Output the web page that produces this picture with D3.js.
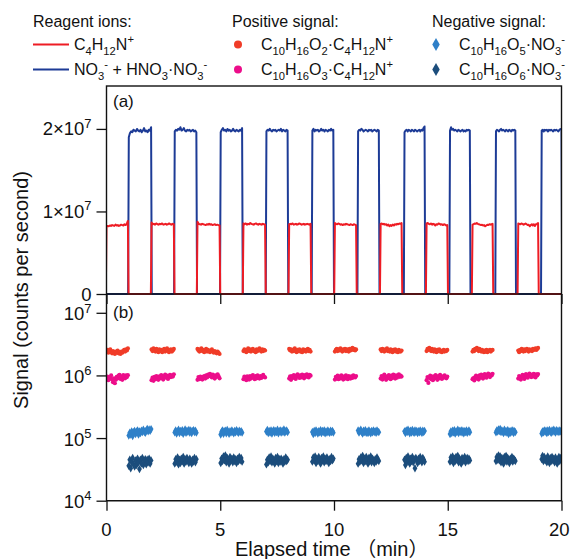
<!DOCTYPE html>
<html>
<head>
<meta charset="utf-8">
<script src="https://cdn.jsdelivr.net/npm/d3@7"></script>
<style>
  body { margin: 0; background: #fff; }
  svg { display: block; }
  text { font-family: "Liberation Sans", Arial, "Noto Sans CJK SC", sans-serif; fill: #111; }
</style>
</head>
<body>
<svg id="chart" width="570" height="559"></svg>
<script>
// Signal values are in thousands of counts per second.
const unit = 1e3;

// Switching windows (minutes): positive-ion mode and negative-ion mode.
const posStart = [0, 1.98, 4.0, 6.02, 8.03, 10.04, 12.05, 14.07, 16.09, 18.1];
const posEnd   = [0.94, 2.96, 4.97, 6.97, 8.97, 10.97, 12.97, 14.98, 16.97, 18.97];
const negStart = [0.98, 3.0, 5.02, 7.03, 9.05, 11.06, 13.1, 15.1, 17.12, 19.13];
const negEnd   = [1.96, 3.95, 5.96, 7.96, 9.97, 11.97, 13.98, 15.97, 17.97, 20.0];

// Reagent ion C4H12N+ (positive mode), one row per window
const reagentPos = [
  [8150,8250,8200,8300,8250,8350,8300,8250,8400,8300,8350,8250,8300,8400,8350,8300,8450,8350,8500,8850],
  [8650,8450,8500,8400,8550,8450,8400,8500,8450,8550,8400,8450,8500,8400,8450,8550,8450,8400,8500,8450],
  [8750,8500,8450,8400,8500,8450,8400,8350,8450,8400,8500,8400,8450,8350,8400,8450,8350,8400,8350,8300],
  [8550,8450,8550,8400,8500,8450,8600,8500,8450,8400,8500,8550,8450,8400,8500,8450,8400,8500,8450,8400],
  [8450,8500,8450,8550,8400,8450,8500,8400,8450,8550,8500,8400,8450,8500,8400,8450,8500,8450,8400,8500],
  [8600,8500,8450,8550,8500,8400,8450,8350,8450,8400,8500,8450,8400,8350,8450,8400,8350,8450,8400,8350],
  [8500,8550,8450,8500,8400,8450,8300,8400,8200,8350,8250,8400,8300,8450,8400,8500,8450,8550,8500,8600],
  [8550,8600,8500,8450,8550,8400,8500,8450,8300,8450,8400,8550,8500,8400,8450,8350,8450,8400,8300,8350],
  [8400,8450,8550,8500,8600,8500,8450,8400,8350,8400,8300,8350,8200,8300,8400,8350,8450,8400,8450,8500],
  [8550,8500,8450,8550,8500,8400,8450,8550,8450,8350,8400,8200,8350,8450,8300,8450,8250,8450,8500,8600]
];

// Reagent ions NO3- + HNO3·NO3- (negative mode)
const reagentNeg = [
  [19000,19500,19700,19600,19900,19800,19700,20000,19800,19700,19900,19600,19800,20100,19700,19800,19600,19900,19800,20200],
  [19700,19900,19800,20000,19900,20200,19800,19900,20100,19800,19700,19900,19800,19900,19700,19800,19900,19700,19800,19600],
  [19600,19900,20100,19800,19900,19700,20000,19800,19900,19700,19800,20000,19800,19700,19900,19800,19700,19900,19800,20100],
  [19700,19900,19800,20000,19800,19700,19900,19800,19900,19700,19800,19900,19800,20000,19700,19900,19800,19700,19900,19800],
  [19800,20000,19700,19900,19800,19900,19700,19800,20000,19800,19900,19700,19900,19800,19700,19900,19800,20000,19800,19900],
  [19700,19900,19800,20000,19900,19700,19800,19900,19800,19700,19900,19800,19900,19700,19800,19900,19800,19700,19900,19800],
  [19600,19800,19900,19700,19900,19800,19700,19900,19800,19700,19900,19800,19700,19800,19900,19700,19900,19800,20100,20300],
  [19800,20200,19900,20000,19800,19900,19800,19700,19900,19800,19700,19800,19900,19700,19800,19700,19900,19800,19900,19800],
  [19700,19900,19800,19700,19900,20000,19800,19900,19800,19700,19900,19800,19700,19900,19800,19700,19900,19800,19900,19800],
  [19800,19900,19700,19900,19800,19900,19700,19900,19800,19900,19800,19700,19900,19800,19900,19800,19700,19900,20000,19900]
];

// C10H16O2·C4H12N+
const c10o2Pos = [
  [2400,2550,2300,2450,2600,2350,2250,2450,2350,2200,2400,2300,2500,2250,2350,2200,2400,2300,2450,2550,2400,2600,2500,2700],
  [2600,2450,2700,2500,2400,2650,2550,2350,2600,2450,2550,2350,2500,2650,2400,2550,2700,2450,2350,2550,2600,2400,2500,2650],
  [2650,2500,2400,2600,2700,2450,2550,2350,2500,2650,2400,2550,2450,2350,2500,2600,2400,2300,2450,2350,2250,2400,2300,2200],
  [2450,2600,2500,2350,2550,2700,2450,2600,2400,2550,2650,2450,2500,2350,2600,2450,2550,2700,2500,2400,2600,2450,2550,2500],
  [2650,2500,2600,2400,2550,2450,2700,2500,2350,2550,2450,2600,2400,2500,2350,2600,2450,2550,2400,2500,2650,2450,2550,2400],
  [2400,2550,2650,2450,2600,2500,2700,2550,2400,2600,2500,2650,2450,2600,2550,2400,2650,2500,2600,2750,2550,2650,2500,2600],
  [2600,2450,2650,2500,2400,2600,2500,2700,2450,2550,2400,2600,2500,2350,2550,2450,2600,2400,2500,2350,2550,2450,2400,2500],
  [2450,2650,2550,2750,2600,2450,2650,2500,2400,2600,2500,2350,2550,2450,2600,2400,2500,2350,2450,2550,2400,2500,2450,2550],
  [2400,2550,2450,2650,2550,2750,2600,2450,2650,2500,2400,2550,2450,2350,2500,2400,2550,2350,2500,2450,2550,2400,2500,2550],
  [2500,2350,2550,2450,2650,2500,2400,2600,2450,2550,2650,2500,2400,2600,2500,2550,2450,2650,2550,2600,2700,2550,2650,2750]
];

// C10H16O3·C4H12N+
const c10o3Pos = [
  [880,960,840,930,900,1000,860,780,900,750,850,950,900,990,1020,880,960,850,1010,950,900,1000,940,1010],
  [840,920,820,950,870,980,900,850,970,900,1010,930,860,960,1030,920,990,880,960,1020,940,1000,960,1040],
  [850,940,870,960,900,860,950,980,890,1000,930,1030,970,1060,980,930,1030,960,890,1000,950,1040,970,900],
  [870,960,900,840,970,910,860,980,890,950,1010,920,870,980,900,1000,940,890,980,910,960,1020,950,930],
  [890,970,850,980,910,1010,930,880,990,1040,950,910,1000,930,1030,960,900,1010,950,1040,980,930,1020,990],
  [860,950,890,990,870,960,900,1000,920,860,970,890,1000,930,870,980,940,890,970,910,1000,960,930,980],
  [890,980,860,950,1030,920,850,970,900,1010,940,870,990,910,1030,950,890,1000,920,980,1040,950,990,960],
  [840,940,760,910,990,870,960,840,970,900,1010,920,850,980,900,1020,940,880,970,920,1000,950,900,960],
  [870,910,830,940,990,890,960,860,1000,920,1030,950,890,1010,1050,960,920,1020,1070,990,940,1030,1000,1060],
  [890,980,910,860,970,1020,940,880,1000,1050,960,920,1020,1070,980,940,1030,960,1060,990,930,1040,1000,1050]
];

// C10H16O5·NO3-
const c10o5Neg = [
  [110,122,114,128,108,124,130,116,126,133,114,128,120,131,124,136,126,121,133,140,128,137,131,139],
  [123,132,118,128,136,120,130,124,134,117,127,137,121,131,126,135,122,132,120,129,134,125,131,122],
  [114,126,133,117,128,131,119,135,125,117,129,122,133,126,119,130,123,134,127,121,131,124,129,122],
  [127,135,120,130,122,133,118,128,134,121,130,124,136,119,128,133,122,131,125,137,122,129,132,124],
  [125,116,130,120,133,126,118,129,123,134,120,130,124,133,119,128,122,132,126,121,131,124,130,122],
  [132,122,129,136,125,118,131,124,134,121,128,120,133,126,119,130,123,132,125,129,121,133,127,124],
  [128,120,133,124,136,129,119,131,122,135,126,121,133,124,130,120,129,123,133,126,121,131,125,130],
  [116,128,120,131,123,134,118,128,125,136,120,130,126,133,122,131,119,129,124,132,121,128,133,124],
  [123,132,127,137,129,140,124,133,127,120,136,125,130,122,134,116,128,121,131,125,133,120,129,124],
  [118,128,123,133,126,131,120,132,124,135,127,121,133,126,136,128,122,134,127,131,124,133,128,130]
];

// C10H16O6·NO3-
const c10o6Neg = [
  [36,45,33,41,48,38,35,44,37,47,41,32,45,39,48,37,43,46,38,45,41,47,39,44],
  [39,46,42,49,38,45,40,47,43,50,39,46,42,48,44,40,47,43,39,45,42,48,41,46],
  [40,47,43,51,44,53,41,48,45,39,50,44,47,41,49,43,46,40,47,43,50,44,48,42],
  [38,45,41,49,43,51,41,47,44,39,48,43,50,40,46,42,47,44,39,46,42,49,43,45],
  [42,49,44,51,40,47,43,50,45,39,48,44,51,41,47,43,49,45,40,46,43,50,44,47],
  [39,46,42,49,44,52,40,47,43,50,45,39,48,43,51,41,47,44,40,46,42,49,45,43],
  [45,37,48,42,51,44,39,47,43,50,41,46,33,48,44,40,47,43,50,44,41,48,45,42],
  [42,49,44,51,40,47,43,50,45,52,41,47,44,39,48,43,46,50,41,45,48,43,47,44],
  [43,50,45,53,44,51,41,48,45,39,50,44,52,42,48,45,40,47,44,50,42,47,45,43],
  [46,52,43,50,44,47,41,51,45,40,48,43,50,44,47,41,49,44,39,46,50,43,48,45]
];

// Axis ticks
const timeMajor = [0, 5, 10, 15, 20];
const timeMinor = d3.range(0, 21);
const linMajor = [0, 1e7, 2e7];
const linLabels = { 0: "0", 1e7: "1×10^{7}", 2e7: "2×10^{7}" };
const linMinor = [5e6, 1.5e7];
const logMajor = [1e4, 1e5, 1e6, 1e7];
const logLabels = { 1e4: "10^{4}", 1e5: "10^{5}", 1e6: "10^{6}", 1e7: "10^{7}" };

const colors = {
  reagentPos: "#ee1c24",
  reagentNeg: "#1d3b96",
  c10o2Pos: "#f03c28",
  c10o3Pos: "#ec0d8a",
  c10o5Neg: "#2f80c8",
  c10o6Neg: "#1c4d7c"
};

// ---------- layout ----------
const W = 570;
const L = 106.5, R = 561.5;
const aTop = 86, aBot = 294, bBot = 500.7;
const tickFont = 18.5, legendFont = 16, titleFont = 20;

const svg = d3.select("#chart");

const x = d3.scaleLinear().domain([0, 20]).range([L, R]);
const ya = d3.scaleLinear().domain([0, 2.52e7]).range([aBot, aTop]);
const yb = d3.scaleLog().domain([1e4, Math.pow(10, 7.3)]).range([bBot, aBot]);

// text with _{sub} and ^{sup} markup
function rich(sel, str, fs) {
  const parts = str.split(/(_\{[^}]*\}|\^\{[^}]*\})/).filter(s => s.length);
  let shift = 0;
  parts.forEach(p => {
    let target = 0, size = fs, t = p;
    if (p.startsWith("_{")) { target = fs * 0.3; size = fs * 0.7; t = p.slice(2, -1); }
    else if (p.startsWith("^{")) { target = -fs * 0.42; size = fs * 0.7; t = p.slice(2, -1); }
    sel.append("tspan").attr("dy", target - shift).attr("font-size", size).text(t);
    shift = target;
  });
  return sel;
}

// clip regions for the two panels
const defs = svg.append("defs");
defs.append("clipPath").attr("id", "clipA").append("rect")
  .attr("x", L).attr("y", aTop).attr("width", R - L).attr("height", aBot - aTop + 1.5);
defs.append("clipPath").attr("id", "clipB").append("rect")
  .attr("x", L).attr("y", aBot + 1).attr("width", R - L).attr("height", bBot - aBot - 1);

// ---------- panel (a): reagent ion traces ----------
const rise = 0.03;
function trace(starts, ends, segs) {
  const pts = [[x.domain()[0], 0]];
  starts.forEach((s, i) => {
    const vals = segs[i];
    const dt = (ends[i] - s) / (vals.length - 1);
    pts.push([s - rise, 0]);
    vals.forEach((v, j) => pts.push([s + j * dt, v * unit]));
    pts.push([ends[i] + rise, 0]);
  });
  pts.push([x.domain()[1], 0]);
  return pts;
}
const line = d3.line().x(d => x(d[0])).y(d => ya(d[1]));

const gA = svg.append("g").attr("clip-path", "url(#clipA)");
gA.append("path").datum(trace(negStart, negEnd, reagentNeg))
  .attr("d", line).attr("fill", "none").attr("stroke", colors.reagentNeg)
  .attr("stroke-width", 2).attr("stroke-linejoin", "round");
gA.append("path").datum(trace(posStart, posEnd, reagentPos))
  .attr("d", line).attr("fill", "none").attr("stroke", colors.reagentPos)
  .attr("stroke-width", 2).attr("stroke-linejoin", "round");

// ---------- panel (b): product ion signals ----------
function points(starts, ends, segs) {
  const out = [];
  starts.forEach((s, i) => {
    const vals = segs[i];
    const dt = (ends[i] - s) / (vals.length - 1);
    vals.forEach((v, j) => out.push([s + j * dt, v * unit]));
  });
  return out;
}
const gB = svg.append("g").attr("clip-path", "url(#clipB)");
const diamond = d3.symbol().type(d3.symbolDiamond).size(20);

[["c10o2Pos", c10o2Pos], ["c10o3Pos", c10o3Pos]].forEach(([key, segs]) => {
  gB.append("g").selectAll("circle").data(points(posStart, posEnd, segs)).join("circle")
    .attr("cx", d => x(d[0])).attr("cy", d => yb(d[1])).attr("r", 2.1)
    .attr("fill", colors[key]);
});
[["c10o5Neg", c10o5Neg], ["c10o6Neg", c10o6Neg]].forEach(([key, segs]) => {
  gB.append("g").selectAll("path").data(points(negStart, negEnd, segs)).join("path")
    .attr("transform", d => `translate(${x(d[0])},${yb(d[1])})`)
    .attr("d", diamond).attr("fill", colors[key]);
});

// ---------- axes ----------
const axisStroke = "#111";
function xTicks(yPos) {
  const g = svg.append("g").attr("transform", `translate(0,${yPos})`);
  g.call(d3.axisBottom(x).tickValues(timeMinor).tickSize(5).tickSizeOuter(0).tickFormat(""));
  g.call(d3.axisBottom(x).tickValues(timeMajor).tickSize(10).tickSizeOuter(0).tickFormat(""));
  g.selectAll(".domain").remove();
  g.selectAll("line").attr("stroke", axisStroke).attr("stroke-width", 1.3);
  return g;
}
xTicks(aBot);
xTicks(bBot);

// time labels (the last one is kept inside the page edge)
svg.append("g").selectAll("text").data(timeMajor).join("text")
  .attr("y", 536).attr("font-size", tickFont).text(d => d)
  .each(function (d) {
    const w = this.getComputedTextLength();
    const left = Math.min(x(d) - w / 2, W - 0.5 - w);
    d3.select(this).attr("x", left);
  });

// panel (a) y ticks
const gYA = svg.append("g").attr("transform", `translate(${L},0)`);
gYA.call(d3.axisLeft(ya).tickValues(linMinor).tickSize(5).tickFormat(""));
gYA.call(d3.axisLeft(ya).tickValues(linMajor).tickSize(10).tickSizeOuter(0).tickFormat(""));
gYA.selectAll(".domain").remove();
gYA.selectAll("line").attr("stroke", axisStroke).attr("stroke-width", 1.3);
linMajor.forEach(v => {
  const t = svg.append("text").attr("x", L - 15).attr("y", ya(v) + 6.5)
    .attr("text-anchor", "end").attr("font-size", tickFont);
  rich(t, linLabels[v], tickFont);
});

// panel (b) y ticks
const gYB = svg.append("g").attr("transform", `translate(${L},0)`);
gYB.call(d3.axisLeft(yb).tickValues(logMajor).tickSize(10).tickSizeOuter(0).tickFormat(""));
gYB.selectAll(".domain").remove();
gYB.selectAll("line").attr("stroke", axisStroke).attr("stroke-width", 1.3);
logMajor.forEach(v => {
  const t = svg.append("text").attr("x", L - 15).attr("y", yb(v) + 7.5)
    .attr("text-anchor", "end").attr("font-size", tickFont);
  rich(t, logLabels[v], tickFont);
});

// frames
const frame = svg.append("g").attr("fill", "none").attr("stroke", axisStroke).attr("stroke-width", 1.4);
frame.append("rect").attr("x", L).attr("y", aTop).attr("width", R - L).attr("height", aBot - aTop);
frame.append("path").attr("d", `M${L},${aBot}V${bBot}H${R}V${aBot}`);

// panel tags
svg.append("text").attr("x", 113).attr("y", 107).attr("font-size", 17).text("(a)");
svg.append("text").attr("x", 113).attr("y", 318).attr("font-size", 17).text("(b)");

// axis titles
svg.append("text").attr("transform", `translate(28,290) rotate(-90)`)
  .attr("text-anchor", "middle").attr("font-size", titleFont).text("Signal (counts per second)");
svg.append("text").attr("x", 235).attr("y", 556).attr("font-size", titleFont)
  .text("Elapsed time （min）");

// ---------- legend ----------
const lf = legendFont;
const leg = svg.append("g");
leg.append("text").attr("x", 33).attr("y", 27).attr("font-size", lf).text("Reagent ions:");
leg.append("text").attr("x", 232).attr("y", 27).attr("font-size", lf).text("Positive signal:");
leg.append("text").attr("x", 432).attr("y", 27).attr("font-size", lf).text("Negative signal:");

const rows = [44.5, 69.5];
[["reagentPos", "C_{4}H_{12}N^{+}"], ["reagentNeg", "NO_{3}^{-} + HNO_{3}·NO_{3}^{-}"]].forEach(([k, s], i) => {
  leg.append("line").attr("x1", 33).attr("x2", 69).attr("y1", rows[i]).attr("y2", rows[i])
    .attr("stroke", colors[k]).attr("stroke-width", 2);
  rich(leg.append("text").attr("x", 74).attr("y", rows[i] + 5.5).attr("font-size", lf), s, lf);
});
[["c10o2Pos", "C_{10}H_{16}O_{2}·C_{4}H_{12}N^{+}"], ["c10o3Pos", "C_{10}H_{16}O_{3}·C_{4}H_{12}N^{+}"]].forEach(([k, s], i) => {
  leg.append("circle").attr("cx", 238).attr("cy", rows[i]).attr("r", 4).attr("fill", colors[k]);
  rich(leg.append("text").attr("x", 261).attr("y", rows[i] + 5.5).attr("font-size", lf), s, lf);
});
[["c10o5Neg", "C_{10}H_{16}O_{5}·NO_{3}^{-}"], ["c10o6Neg", "C_{10}H_{16}O_{6}·NO_{3}^{-}"]].forEach(([k, s], i) => {
  leg.append("path").attr("transform", `translate(436,${rows[i]})`)
    .attr("d", d3.symbol().type(d3.symbolDiamond).size(48)).attr("fill", colors[k]);
  rich(leg.append("text").attr("x", 459).attr("y", rows[i] + 5.5).attr("font-size", lf), s, lf);
});
</script>
</body>
</html>
